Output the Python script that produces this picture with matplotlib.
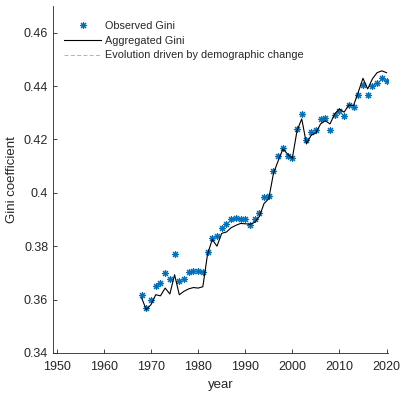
import numpy as np
import matplotlib
matplotlib.use("Agg")
import matplotlib.pyplot as plt

plt.rcParams['font.family'] = ['Liberation Sans', 'DejaVu Sans']

years = np.arange(1968, 2021)

# observed Gini coefficient (stars)
observed = [0.3616, 0.3570, 0.3598, 0.3649, 0.3662, 0.3700, 0.3677, 0.3770,
            0.3668, 0.3677, 0.3705, 0.3707, 0.3707, 0.3705, 0.3777, 0.3831,
            0.3838, 0.3869, 0.3882, 0.3900, 0.3905, 0.3902, 0.3903, 0.3879,
            0.3903, 0.3925, 0.3983, 0.3987, 0.4080, 0.4136, 0.4166, 0.4139,
            0.4132, 0.4239, 0.4295, 0.4199, 0.4229, 0.4235, 0.4277, 0.4279,
            0.4235, 0.4293, 0.4308, 0.4287, 0.4329, 0.4320, 0.4368, 0.4405,
            0.4368, 0.4400, 0.4412, 0.4431, 0.4418]

# aggregated Gini (black line)
aggregated = [0.3606, 0.3562, 0.3581, 0.3618, 0.3614, 0.3643, 0.3621, 0.3693,
              0.3618, 0.3631, 0.3640, 0.3645, 0.3643, 0.3648, 0.3770, 0.3825,
              0.3800, 0.3848, 0.3853, 0.3869, 0.3878, 0.3885, 0.3884, 0.3882,
              0.3889, 0.3911, 0.3960, 0.3978, 0.4073, 0.4120, 0.4164, 0.4145,
              0.4129, 0.4233, 0.4277, 0.4183, 0.4216, 0.4224, 0.4258, 0.4270,
              0.4258, 0.4295, 0.4314, 0.4302, 0.4329, 0.4327, 0.4377, 0.4429,
              0.4389, 0.4427, 0.4450, 0.4457, 0.4450]

xticks = [1950, 1960, 1970, 1980, 1990, 2000, 2010, 2020]
yticks = [0.34, 0.36, 0.38, 0.40, 0.42, 0.44, 0.46]
ytick_labels = ['0.34', '0.36', '0.38', '0.4', '0.42', '0.44', '0.46']

blue = (0.0, 0.447, 0.741)
axcol = (0.15, 0.15, 0.15)

fig = plt.figure(figsize=(4.02, 3.97), dpi=100)
ax = fig.add_axes([0.132, 0.111, 0.833, 0.874])

ax.plot(years, observed, linestyle='none', marker=(8, 2, 0), markersize=5,
        markeredgewidth=0.8, color=blue, label='Observed Gini')
ax.plot(years, aggregated, color='black', linewidth=0.8, label='Aggregated Gini')
ax.plot([], [], color=(0.7, 0.7, 0.7), linestyle=(0, (4, 2.5)), linewidth=0.7,
        label='Evolution driven by demographic change')

ax.set_xlim(1949.2, 2020.3)
ax.set_ylim(0.34, 0.47)
ax.set_xticks(xticks)
ax.set_yticks(yticks)
ax.set_yticklabels(ytick_labels)

for side in ['top', 'right']:
    ax.spines[side].set_visible(False)
for side in ['left', 'bottom']:
    ax.spines[side].set_color(axcol)
    ax.spines[side].set_linewidth(0.6)
ax.tick_params(direction='in', length=3, width=0.6, colors=axcol, labelsize=9)
ax.tick_params(axis='x', pad=6)

ax.set_xlabel('year', fontsize=9.5, color=axcol, labelpad=4)
ax.set_ylabel('Gini coefficient', fontsize=9.5, color=axcol, labelpad=4)

leg = ax.legend(loc='upper left', frameon=False, fontsize=7.8, handlelength=3.4,
                handletextpad=0.4, borderaxespad=0.0, labelspacing=0.45,
                bbox_to_anchor=(0.02, 0.97))
for t in leg.get_texts():
    t.set_color(axcol)

fig.savefig('out.png', dpi=100)
